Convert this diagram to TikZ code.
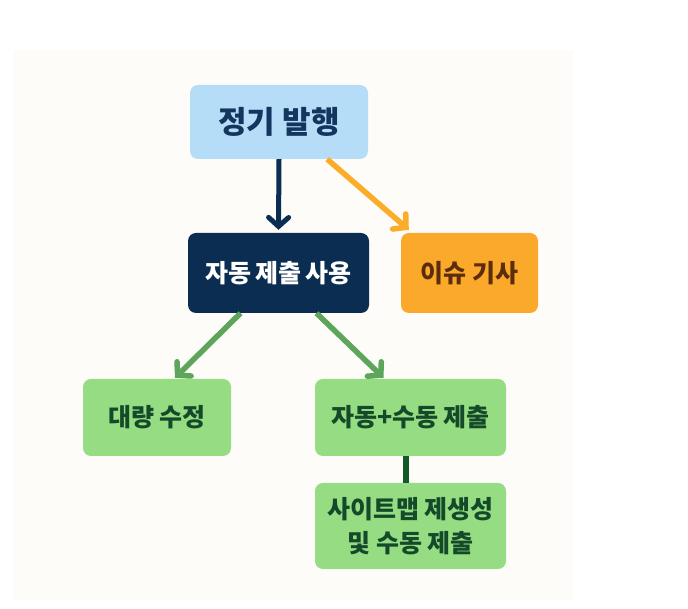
\documentclass[tikz,border=0pt]{standalone}
\usepackage{fontspec}
\setmainfont{Noto Sans CJK KR}
\usepackage{xcolor}
\usetikzlibrary{arrows.meta}
\definecolor{mpaper}{HTML}{FDFCF8}
\definecolor{msky}{HTML}{B5DDF7}
\definecolor{mnavy}{HTML}{0C2D52}
\definecolor{mtitle}{HTML}{12365E}
\definecolor{morange}{HTML}{FBA92B}
\definecolor{mbrown}{HTML}{5C2D0C}
\definecolor{mgreen}{HTML}{95DC82}
\definecolor{mleaf}{HTML}{5DA55A}
\definecolor{mforest}{HTML}{14492A}
\tikzset{box/.style = {rounded corners = 8pt, inner sep = 0, align = center,
                       font = \bfseries\fontsize{25}{34}\selectfont}}
\tikzset{flow/.style = {line width = 5.5pt,
                        -{Straight Barb[length = 9pt, width = 20pt, line cap = round]}}}

\begin{document}
\begin{tikzpicture}[x=1pt, y=1pt]
    \useasboundingbox (0, 0) rectangle (688, 609);
    \fill [mpaper] (13, 9) rectangle (573, 559);

    \node (regular) [box, fill=msky, text=mtitle, minimum width=178, minimum height=74,
                     font=\bfseries\fontsize{31}{36}\selectfont] at (279, 487) {정기 발행};

    \node (auto) [box, fill=mnavy, text=white, minimum width=181, minimum height=80] at (278.5, 336) {자동\hspace{-2pt} 제출\hspace{-2pt} 사용};
    \node (news) [box, fill=morange, text=mbrown, minimum width=137, minimum height=80] at (469.5, 336) {이슈 기사};

    \node (bulk) [box, fill=mgreen, text=mforest, minimum width=148, minimum height=77] at (157, 191.5) {대량 수정};
    \node (mixed) [box, fill=mgreen, text=mforest, minimum width=191, minimum height=77] at (410.5, 191.5) {자동+수동 제출};
    \node (sitemap) [box, fill=mgreen, text=mforest, minimum width=191, minimum height=86] at (410.5, 83) {사이트맵 제생성\\및 수동 제출};

    \draw [flow, mnavy, line width=5pt] (regular.south) -- ([yshift=3pt]auto.north);
    \draw [flow, morange!95!yellow] ([xshift=-41pt]regular.south east) -- ([xshift=8pt, yshift=3pt]news.north west);

    \draw [flow, mleaf] ([xshift=-38pt]auto.south) -- ([xshift=18pt, yshift=1pt]bulk.north);
    \draw [flow, mleaf] ([xshift=38pt]auto.south) -- ([xshift=-27pt, yshift=1pt]mixed.north);

    \draw [line width=6pt, mforest!90!green] ([xshift=-5pt]mixed.south) -- ([xshift=-5pt]sitemap.north);
\end{tikzpicture}
\end{document}
